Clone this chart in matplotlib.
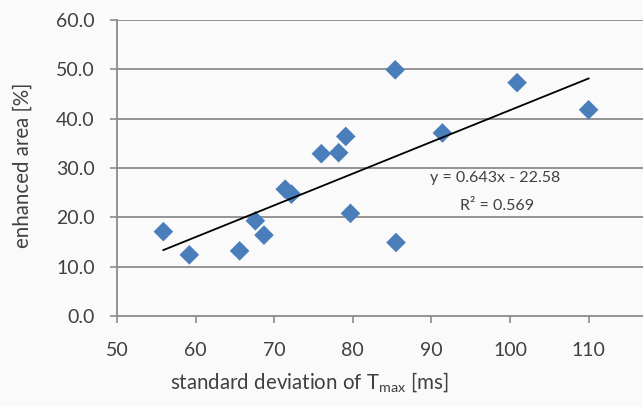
import matplotlib
matplotlib.use("Agg")
import matplotlib.pyplot as plt
import numpy as np

# Data
sd_tmax = [55.9, 59.2, 65.6, 67.6, 68.7, 71.4, 72.2, 76.0, 78.2, 79.1, 79.7,
           85.4, 85.5, 91.4, 100.9, 110.0]
enhanced_area = [17.1, 12.4, 13.2, 19.3, 16.4, 25.7, 24.7, 32.9, 33.1, 36.4, 20.8,
                 49.9, 14.9, 37.1, 47.3, 41.8]
fit_slope = 0.643
fit_intercept = -22.58
fit_r2 = 0.569
x_ticks = [50, 60, 70, 80, 90, 100, 110]
y_ticks = [0, 10, 20, 30, 40, 50, 60]

plt.rcParams['font.family'] = ['Lato', 'DejaVu Sans']
text_color = '#404040'
bg = '#fafafa'

fig = plt.figure(figsize=(6.43, 4.07), dpi=100, facecolor=bg)
ax = fig.add_axes([117/643, 1-316/407, 1-117/643, (316-20)/407], facecolor=bg)

ax.set_xlim(50, 50 + (643-117)/78.6*10)
ax.set_ylim(0, 60)

for yv in y_ticks[1:]:
    ax.axhline(yv, color='#8c8c8c', lw=1.3, zorder=1)

ax.scatter(sd_tmax, enhanced_area, marker='D', s=100, color='#4a7ebb',
           edgecolors='none', zorder=3)

xs = np.array([min(sd_tmax), max(sd_tmax)])
ax.plot(xs, fit_slope*xs + fit_intercept, color='black', lw=1.3, zorder=4)

ax.text(98.1, 28.0, f"y = {fit_slope}x - {abs(fit_intercept)}", ha='center', va='center',
        fontsize=11.5, color=text_color, zorder=5)
ax.text(98.3, 22.3, f"R² = {fit_r2}", ha='center', va='center',
        fontsize=11.5, color=text_color, zorder=5)

ax.set_xticks(x_ticks)
ax.set_yticks(y_ticks)
ax.set_yticklabels([f"{v:.1f}" for v in y_ticks])
ax.tick_params(axis='both', colors='#8c8c8c', labelcolor=text_color, labelsize=14,
               direction='out', length=5, width=1.2)
ax.tick_params(axis='x', pad=14)
ax.tick_params(axis='y', pad=11)

for s in ['top', 'right']:
    ax.spines[s].set_visible(False)
for s in ['left', 'bottom']:
    ax.spines[s].set_color('#8c8c8c')
    ax.spines[s].set_linewidth(1.3)

fig.text(309/643, 1-383/407, "standard deviation of T$_{\\mathregular{max}}$ [ms]",
         ha='center', va='center', fontsize=14.8, color=text_color)
fig.text(23/643, 1-165/407, "enhanced area [%]", rotation=90, ha='center', va='center',
         fontsize=14.8, color=text_color)

fig.savefig("out.png", dpi=100, facecolor=bg)
